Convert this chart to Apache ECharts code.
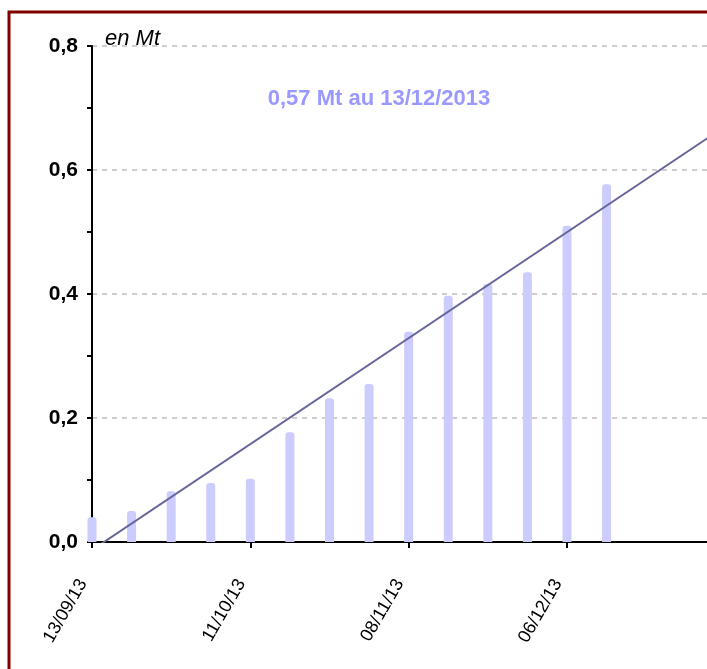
<!DOCTYPE html>
<html>
<head>
<meta charset="utf-8">
<script src="https://cdn.jsdelivr.net/npm/echarts@6/dist/echarts.min.js"></script>
<style>
html,body{margin:0;padding:0;background:#fff;overflow:hidden;width:707px;height:669px;}
#chart{width:820px;height:669px;}
</style>
</head>
<body>
<div id="chart"></div>
<script>
// Weekly dates (dd/mm/yyyy) and cumulative values in Mt
const dates = ['13/09/2013','20/09/2013','27/09/2013','04/10/2013','11/10/2013','18/10/2013','25/10/2013',
               '01/11/2013','08/11/2013','15/11/2013','22/11/2013','29/11/2013','06/12/2013','13/12/2013'];
const values = [0.040, 0.050, 0.082, 0.095, 0.102, 0.177, 0.232, 0.255, 0.339, 0.397, 0.416, 0.435, 0.510, 0.577];
// Linear trend line endpoints
const trendDates = ['13/09/2013', '17/01/2014'];
const trendValues = [-0.013, 0.756];
// x tick labels shown (every 4 weeks)
const xTickLabels = ['13/09/13', '11/10/13', '08/11/13', '06/12/13'];
const yTicks = ['0,0', '0,2', '0,4', '0,6', '0,8'];
const unitLabel = 'en Mt';
const noteLabel = '0,57 Mt au 13/12/2013';

const DAY = 86400000;
function parse(d) { const p = d.split('/'); return Date.UTC(+p[2], +p[1] - 1, +p[0]); }
const origin = parse(dates[0]);
function dayOffset(d) { return Math.round((parse(d) - origin) / DAY); }

const barData = dates.map((d, i) => [dayOffset(d), values[i]]);
const trendData = trendDates.map((d, i) => [dayOffset(d), trendValues[i]]);

const chart = echarts.init(document.getElementById('chart'), null, {renderer: 'canvas'});
const font = '"Liberation Sans", Arial, sans-serif';
chart.setOption({
  animation: false,
  textStyle: {fontFamily: font},
  grid: {left: 92, top: 46, bottom: 127, right: 15.5},
  xAxis: {
    type: 'value', min: 0, max: 126, interval: 28,
    axisLine: {show: true, lineStyle: {color: '#000', width: 2}},
    axisTick: {show: true, length: 6, lineStyle: {color: '#000', width: 2}},
    axisLabel: {rotate: 60, margin: 23, padding: [0, 18, 0, 0], color: '#000', fontSize: 18, fontFamily: font,
      showMaxLabel: false, formatter: v => xTickLabels[Math.round(v / 28)] || ''},
    splitLine: {show: false}
  },
  yAxis: {
    type: 'value', min: 0, max: 0.8, interval: 0.2,
    axisLine: {show: true, lineStyle: {color: '#000', width: 2}},
    axisTick: {show: true, length: 5, lineStyle: {color: '#000', width: 2}},
    minorTick: {show: true, splitNumber: 2, length: 5, lineStyle: {color: '#000', width: 2}},
    axisLabel: {margin: 14, color: '#000', fontSize: 21, fontWeight: 'bold', fontFamily: font,
      formatter: v => yTicks[Math.round(v / 0.2)]},
    splitLine: {show: true, lineStyle: {color: '#BFBFBF', width: 1.5, type: [5, 5]}}
  },
  series: [
    {type: 'bar', data: barData, barWidth: 9, clip: true,
      itemStyle: {color: '#CCCCFF', borderRadius: [3, 3, 0, 0]}, z: 2},
    {type: 'line', data: trendData, symbol: 'none', clip: true,
      lineStyle: {color: '#666699', width: 2}, z: 3}
  ],
  graphic: [
    {type: 'rect', shape: {x: 9, y: 12, width: 900, height: 900},
      style: {fill: 'none', stroke: '#800000', lineWidth: 3}, z: 100},
    {type: 'text', left: 105, top: 28, z: 100,
      style: {text: unitLabel, font: 'italic 22px ' + font, fill: '#000'}},
    {type: 'text', x: 379, y: 99, z: 100,
      style: {text: noteLabel, font: 'bold 22px ' + font, fill: '#9999FF', align: 'center', verticalAlign: 'middle'}}
  ]
});
</script>
</body>
</html>
